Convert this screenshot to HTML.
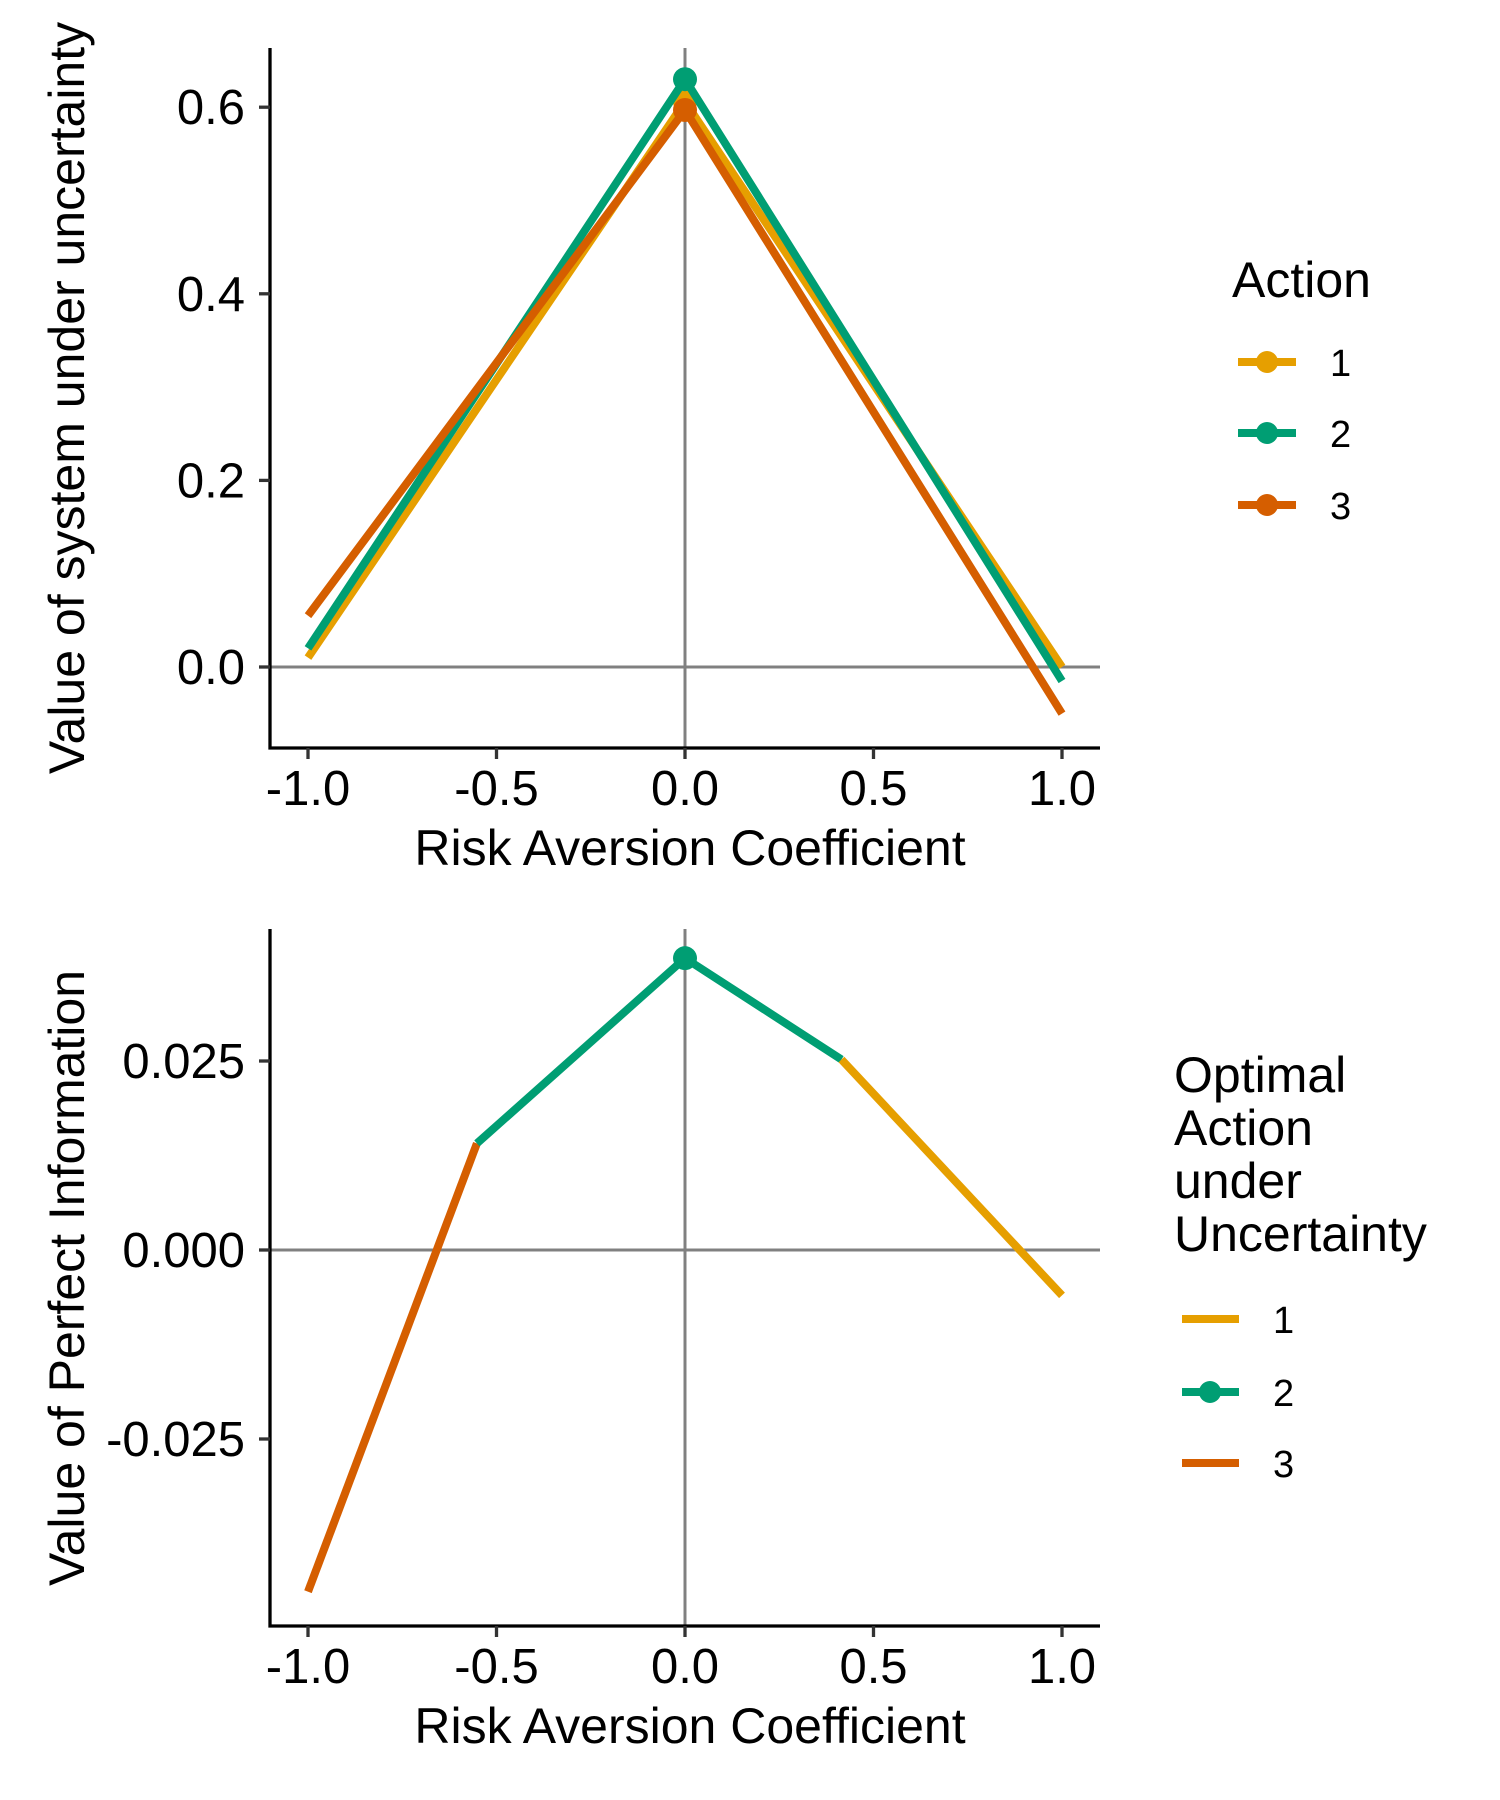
<!DOCTYPE html>
<html><head><meta charset="utf-8"><style>
html,body{margin:0;padding:0;background:#fff;}
svg{display:block;font-family:"Liberation Sans",sans-serif;}
</style></head><body>
<svg id="fig" width="1500" height="1800" viewBox="0 0 1500 1800" xmlns="http://www.w3.org/2000/svg">
<rect width="1500" height="1800" fill="#fff"/>
<g id="topg"></g>
<g id="botg"></g>
<g>
<text x="1232" y="297" font-size="50">Action</text>
<g><line x1="1238" y1="362" x2="1296" y2="362" stroke="#E69F00" stroke-width="8"/><circle cx="1267" cy="362" r="11" fill="#E69F00"/><text x="1330" y="376" font-size="38">1</text></g>
<g><line x1="1238" y1="433" x2="1296" y2="433" stroke="#009E73" stroke-width="8"/><circle cx="1267" cy="433" r="11" fill="#009E73"/><text x="1330" y="447" font-size="38">2</text></g>
<g><line x1="1238" y1="505" x2="1296" y2="505" stroke="#D55E00" stroke-width="8"/><circle cx="1267" cy="505" r="11" fill="#D55E00"/><text x="1330" y="519" font-size="38">3</text></g>
</g>
<g>
<text font-size="50"><tspan x="1174" y="1092">Optimal</tspan><tspan x="1174" y="1145">Action</tspan><tspan x="1174" y="1198">under</tspan><tspan x="1174" y="1251">Uncertainty</tspan></text>
<g><line x1="1182" y1="1319" x2="1239" y2="1319" stroke="#E69F00" stroke-width="8"/><text x="1273" y="1333" font-size="38">1</text></g>
<g><line x1="1182" y1="1392" x2="1239" y2="1392" stroke="#009E73" stroke-width="8"/><circle cx="1210" cy="1392" r="11" fill="#009E73"/><text x="1273" y="1406" font-size="38">2</text></g>
<g><line x1="1182" y1="1463" x2="1239" y2="1463" stroke="#D55E00" stroke-width="8"/><text x="1273" y="1477" font-size="38">3</text></g>
</g>
</svg>
<script>
// Top panel data
const topX = [-1, 0, 1];
const action1 = [0.01, 0.606, 0.0];
const action2 = [0.02, 0.63, -0.015];
const action3 = [0.055, 0.597, -0.05];
const topYTicks = [0, 0.2, 0.4, 0.6];
const topYTickLabels = ["0.0", "0.2", "0.4", "0.6"];
const xTicks = [-1, -0.5, 0, 0.5, 1];
const xTickLabels = ["-1.0", "-0.5", "0.0", "0.5", "1.0"];
// Bottom panel data
const botSeg3X = [-1, -0.552];
const botSeg3Y = [-0.0452, 0.0141];
const botSeg2X = [-0.552, 0, 0.415];
const botSeg2Y = [0.0141, 0.0386, 0.0252];
const botSeg1X = [0.415, 1];
const botSeg1Y = [0.0252, -0.006];
const botPointX = [0];
const botPointY = [0.0386];
const botYTicks = [-0.025, 0, 0.025];
const botYTickLabels = ["-0.025", "0.000", "0.025"];

const NS = "http://www.w3.org/2000/svg";
function mk(tag, attrs, parent){const e=document.createElementNS(NS,tag);for(const k in attrs)e.setAttribute(k,attrs[k]);parent.appendChild(e);return e;}
const xs = v => 685 + v*377;

function panel(g, ys, ptop, bottom, yTicks, yLabels, yTitle, titleCy){
  mk('line',{x1:270,y1:ys(0),x2:1100,y2:ys(0),stroke:'#808080','stroke-width':3},g);
  mk('line',{x1:xs(0),y1:ptop,x2:xs(0),y2:bottom,stroke:'#808080','stroke-width':3},g);
  const ax = mk('path',{d:`M270 ${ptop} V${bottom} H1100`,fill:'none',stroke:'#000','stroke-width':3.3},g);
  
  
  yTicks.forEach((t,i)=>{
    mk('line',{x1:259,y1:ys(t),x2:270,y2:ys(t),stroke:'#333','stroke-width':3.3},g);
    const tx = mk('text',{x:245,y:ys(t)+17,'font-size':49,'text-anchor':'end'},g);
    tx.textContent = yLabels[i];
    
    
  });
  xTicks.forEach((t,i)=>{
    mk('line',{x1:xs(t),y1:bottom,x2:xs(t),y2:bottom+11,stroke:'#333','stroke-width':3.3},g);
    const tx = mk('text',{x:xs(t),y:bottom+57,'font-size':49,'text-anchor':'middle'},g);
    tx.textContent = xTickLabels[i];
    
    
  });
  const xt = mk('text',{x:690,y:bottom+117,'font-size':50,'text-anchor':'middle'},g);
  xt.textContent = 'Risk Aversion Coefficient';
  
  
  const yt = mk('text',{x:0,y:0,'font-size':50,'text-anchor':'middle',transform:`translate(84 ${titleCy}) rotate(-90)`},g);
  yt.textContent = yTitle;
  
  
}
function series(g, xv, yv, ys, color, name, pts){
  const p = mk('polyline',{points:xv.map((x,i)=>xs(x)+','+ys(yv[i])).join(' '),fill:'none',stroke:color,'stroke-width':8,'stroke-linejoin':'round'},g);
  
  
  if(pts){ pts.forEach(i=>{
    const c = mk('circle',{cx:xs(xv[i]),cy:ys(yv[i]),r:12,fill:color},g);
    
    
  });}
}
const topPanel = document.getElementById('topg');
const ysT = v => 667 - v*933;
panel(topPanel, ysT, 48, 748, topYTicks, topYTickLabels, 'Value of system under uncertainty', 398);
series(topPanel, topX, action1, ysT, '#E69F00', 'line-action-1', [1]);
series(topPanel, topX, action2, ysT, '#009E73', 'line-action-2', [1]);
series(topPanel, topX, action3, ysT, '#D55E00', 'line-action-3', [1]);

const botPanel = document.getElementById('botg');
const ysB = v => 1250 - v*7560;
panel(botPanel, ysB, 929, 1626, botYTicks, botYTickLabels, 'Value of Perfect Information', 1278);
series(botPanel, botSeg3X, botSeg3Y, ysB, '#D55E00', 'vpi-segment-action-3', null);
series(botPanel, botSeg2X, botSeg2Y, ysB, '#009E73', 'vpi-segment-action-2', null);
series(botPanel, botSeg1X, botSeg1Y, ysB, '#E69F00', 'vpi-segment-action-1', null);
botPointX.forEach((x,i)=>{
  const c = mk('circle',{cx:xs(x),cy:ysB(botPointY[i]),r:12,fill:'#009E73'},botPanel);
  
  
});
</script>
</body></html>
